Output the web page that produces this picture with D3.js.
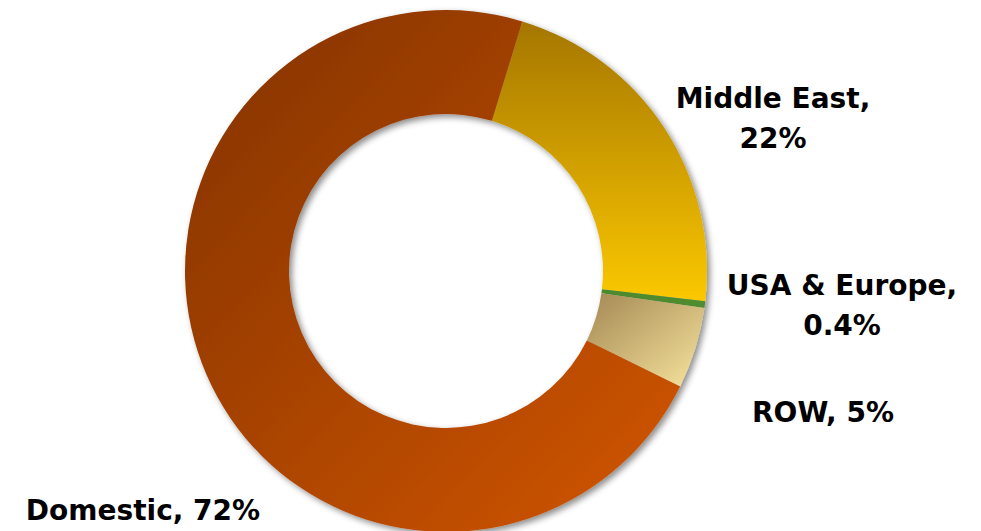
<!DOCTYPE html>
<html>
<head>
<meta charset="utf-8">
<script src="https://cdn.jsdelivr.net/npm/d3@7"></script>
<style>
  html, body { margin: 0; padding: 0; background: #fff; }
  svg { display: block; }
  text { font-family: "DejaVu Sans", Verdana, sans-serif; font-weight: bold; fill: #000; }
</style>
</head>
<body>
<svg id="chart" width="981" height="531"></svg>
<script>
// Share of sales by region (%)
const regions = ["Middle East", "USA & Europe", "ROW", "Domestic"];
const shares = [22, 0.4, 5, 72];
const shareLabels = ["22%", "0.4%", "5%", "72%"];

// Label lines per region
const labelLines = [
  ["Middle East,", "22%"],
  ["USA & Europe,", "0.4%"],
  ["ROW, 5%"],
  ["Domestic, 72%"]
];

const W = 981, H = 531;
const cx = 446, cy = 271;
const outerR = 261, innerR = 157;
const startDeg = 17;

const svg = d3.select("#chart");
const defs = svg.append("defs");

// Fill gradients, one per slice (bounding-box units)
const fills = [
  { id: "g-me",  x1: 0, y1: 0, x2: 0, y2: 1, stops: ["#a57600", "#fbc800"] },
  { id: "g-usa", x1: 0, y1: 0, x2: 1, y2: 0, stops: ["#4c8a2c", "#4f8c30"] },
  { id: "g-row", x1: 0, y1: 0, x2: 1, y2: 1, stops: ["#a38853", "#f8e49e"] },
  { id: "g-dom", x1: 0, y1: 0, x2: 1, y2: 1, stops: ["#823200", "#d25600"] }
];
fills.forEach(f => {
  const g = defs.append("linearGradient").attr("id", f.id)
    .attr("x1", f.x1).attr("y1", f.y1).attr("x2", f.x2).attr("y2", f.y2);
  g.append("stop").attr("offset", "0%").attr("stop-color", f.stops[0]);
  g.append("stop").attr("offset", "100%").attr("stop-color", f.stops[1]);
});

// Soft drop shadow under the ring
const flt = defs.append("filter").attr("id", "shadow")
  .attr("x", "-10%").attr("y", "-10%").attr("width", "120%").attr("height", "120%");
flt.append("feDropShadow").attr("dx", 3).attr("dy", 3).attr("stdDeviation", 3)
  .attr("flood-color", "#000").attr("flood-opacity", 0.45);

const pie = d3.pie().sort(null)
  .startAngle(startDeg * Math.PI / 180)
  .endAngle(startDeg * Math.PI / 180 + 2 * Math.PI);
const arc = d3.arc().innerRadius(innerR).outerRadius(outerR);

const arcs = pie(shares);

svg.append("g")
  .attr("transform", `translate(${cx},${cy})`)
  .attr("filter", "url(#shadow)")
  .selectAll("path")
  .data(arcs)
  .join("path")
  .attr("d", arc)
  .attr("fill", (d, i) => `url(#${fills[i].id})`);

// Label anchor points (centre of the first line's baseline)
const labelPos = [
  { x: 773, y: 108 },
  { x: 842, y: 295 },
  { x: 823, y: 422 },
  { x: 143, y: 520 }
];
const lineGap = 40;

const labels = svg.append("g");
labelLines.forEach((lines, i) => {
  const t = labels.append("text")
    .attr("x", labelPos[i].x)
    .attr("y", labelPos[i].y)
    .attr("text-anchor", "middle")
    .style("font-size", "28px");
  lines.forEach((ln, j) => {
    t.append("tspan")
      .attr("x", labelPos[i].x)
      .attr("dy", j === 0 ? 0 : lineGap)
      .text(ln);
  });
});
</script>
</body>
</html>
